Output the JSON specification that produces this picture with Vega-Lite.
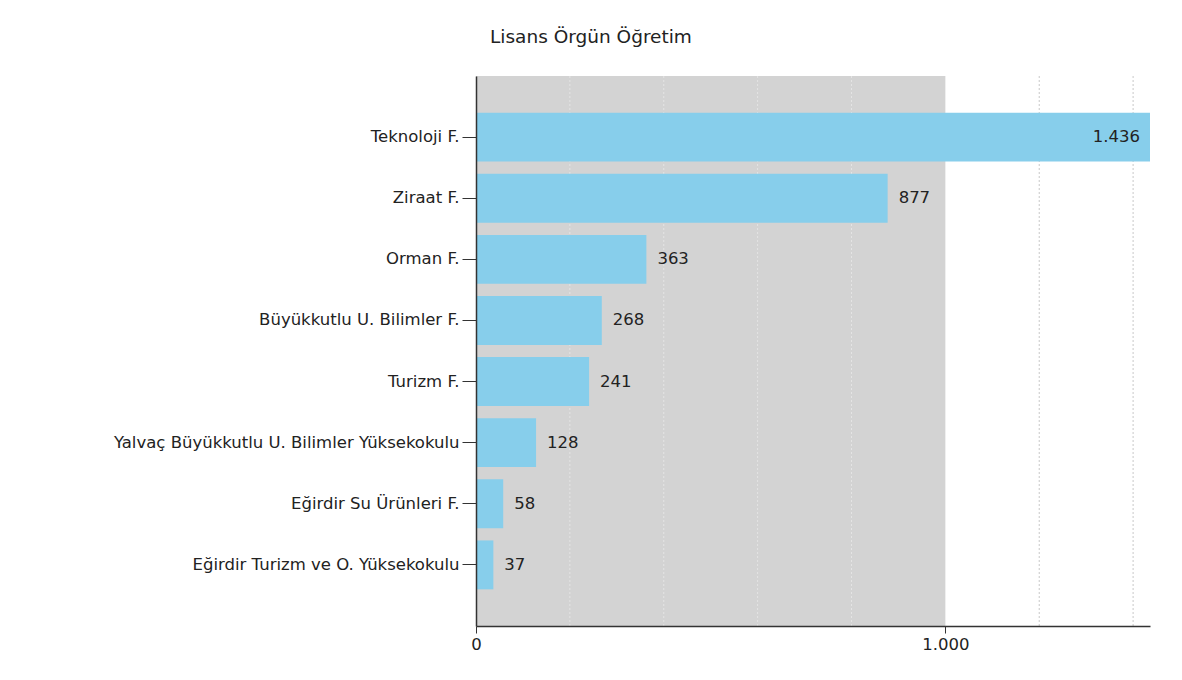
{
  "$schema": "https://vega.github.io/schema/vega-lite/v6.json",
  "autosize": "none",
  "width": 674,
  "height": 550,
  "padding": {"left": 476, "top": 76, "right": 32, "bottom": 54},
  "background": "white",
  "config": {
    "font": "DejaVu Sans",
    "view": {"stroke": null},
    "locale": {"number": {"decimal": ",", "thousands": ".", "grouping": [3], "currency": ["", ""]}}
  },
  "title": {
    "text": "Lisans Örgün Öğretim",
    "anchor": "start",
    "frame": "group",
    "dx": 14,
    "offset": 29,
    "fontSize": 18.5,
    "fontWeight": "normal",
    "color": "#222"
  },
  "datasets": {
    "bars": [
      {"birim": "Teknoloji F.", "sayi": 1436},
      {"birim": "Ziraat F.", "sayi": 877},
      {"birim": "Orman F.", "sayi": 363},
      {"birim": "Büyükkutlu U. Bilimler F.", "sayi": 268},
      {"birim": "Turizm F.", "sayi": 241},
      {"birim": "Yalvaç Büyükkutlu U. Bilimler Yüksekokulu", "sayi": 128},
      {"birim": "Eğirdir Su Ürünleri F.", "sayi": 58},
      {"birim": "Eğirdir Turizm ve O. Yüksekokulu", "sayi": 37}
    ],
    "bg": [{"start": 0, "end": 1000}],
    "grid": [{"v": 200}, {"v": 400}, {"v": 600}, {"v": 800}, {"v": 1200}, {"v": 1400}]
  },
  "layer": [
    {
      "data": {"name": "bg"},
      "mark": {"type": "rect", "color": "#d3d3d3"},
      "encoding": {
        "x": {
          "field": "start", "type": "quantitative",
          "scale": {"domain": [0, 1436], "nice": false},
          "axis": {
            "title": null,
            "values": [0, 1000],
            "format": ",d",
            "grid": false,
            "labelFlush": false,
            "labelFontSize": 16.5,
            "labelColor": "#222",
            "tickSize": 7,
            "tickColor": "#333",
            "domainColor": "#333",
            "domainWidth": 1.5,
            "labelPadding": 3,
            "zindex": 2
          }
        },
        "x2": {"field": "end"}
      }
    },
    {
      "data": {"name": "grid"},
      "transform": [{"filter": "datum.v < 1000"}],
      "mark": {"type": "rule", "color": "#e4e4e4", "strokeDash": [2, 2], "strokeWidth": 1},
      "encoding": {"x": {"field": "v", "type": "quantitative"}}
    },
    {
      "data": {"name": "grid"},
      "transform": [{"filter": "datum.v > 1000"}],
      "mark": {"type": "rule", "color": "#c8c8c8", "strokeDash": [2, 2], "strokeWidth": 1},
      "encoding": {"x": {"field": "v", "type": "quantitative"}}
    },
    {
      "data": {"name": "bars"},
      "mark": {"type": "bar", "color": "#87ceeb"},
      "encoding": {
        "y": {
          "field": "birim", "type": "nominal", "sort": null,
          "scale": {"paddingInner": 0.2, "paddingOuter": 0.6},
          "axis": {
            "title": null,
            "labelFontSize": 16.5,
            "labelColor": "#222",
            "labelPadding": 3,
            "tickSize": 14,
            "tickColor": "#333",
            "domainColor": "#333",
            "domainWidth": 1.5,
            "labelLimit": 500,
            "zindex": 2
          }
        },
        "x": {"field": "sayi", "type": "quantitative"}
      }
    },
    {
      "data": {"name": "bars"},
      "transform": [{"filter": "datum.sayi < 1300"}],
      "mark": {"type": "text", "align": "left", "dx": 11, "fontSize": 16.5, "color": "#222"},
      "encoding": {
        "y": {"field": "birim", "type": "nominal", "sort": null},
        "x": {"field": "sayi", "type": "quantitative"},
        "text": {"field": "sayi", "type": "quantitative", "format": ",d"}
      }
    },
    {
      "data": {"name": "bars"},
      "transform": [{"filter": "datum.sayi >= 1300"}],
      "mark": {"type": "text", "align": "right", "dx": -10, "fontSize": 16.5, "color": "#222"},
      "encoding": {
        "y": {"field": "birim", "type": "nominal", "sort": null},
        "x": {"field": "sayi", "type": "quantitative"},
        "text": {"field": "sayi", "type": "quantitative", "format": ",d"}
      }
    }
  ]
}
